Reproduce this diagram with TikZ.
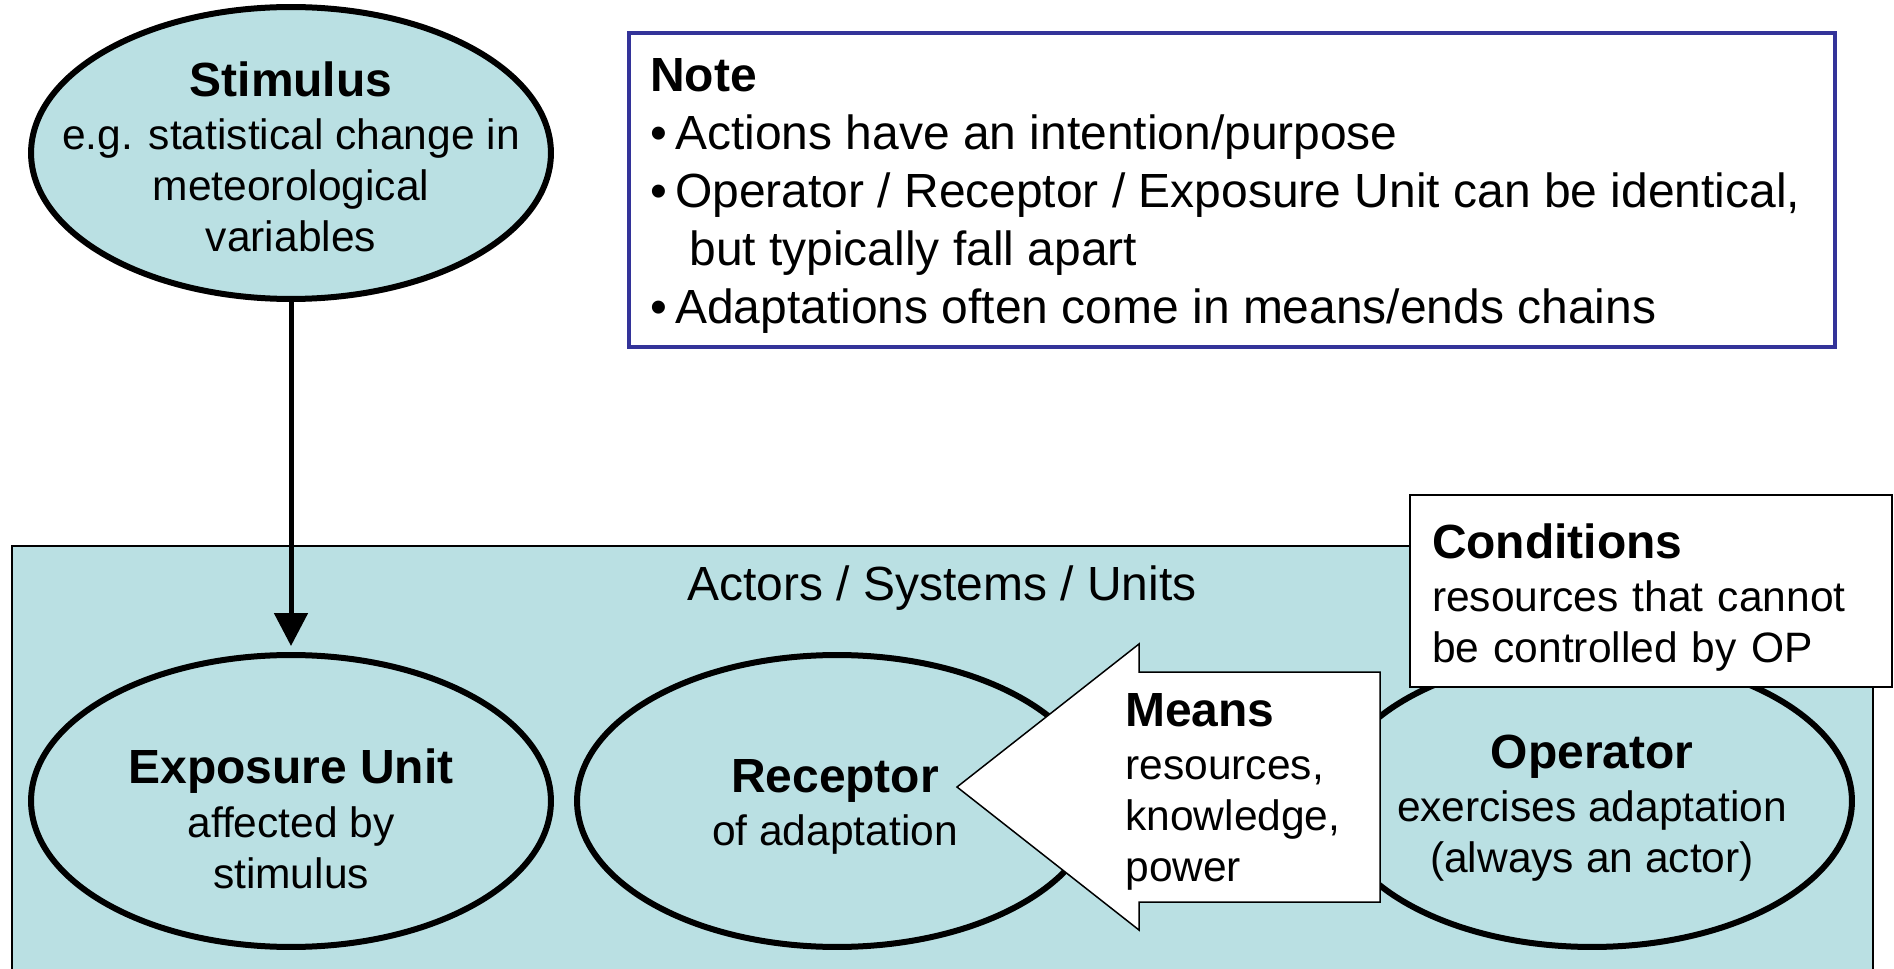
\documentclass[tikz,border=0pt]{standalone}
\usepackage{fontspec}
\setmainfont{Liberation Sans}
\usetikzlibrary{arrows.meta,shapes.geometric}
\definecolor{unitblue}{RGB}{186,224,227}
\definecolor{noteblue}{RGB}{51,51,153}
\newcommand{\hd}[1]{{\fontsize{27.3}{31}\selectfont\bfseries #1}}
\newcommand{\bodyfont}{\fontsize{24.2}{29}\selectfont}

\begin{document}
\begin{tikzpicture}[x=.02cm, y=-.02cm, every node/.style={font=\bodyfont},
  unit/.style={ellipse, draw, line width=.12cm, fill=unitblue, minimum width=10.4cm, minimum height=5.84cm, inner sep=0pt},
  txt/.style={align=center, inner sep=0pt},
  box/.style={draw, fill=white, line width=.04cm, align=left, inner xsep=.44cm}]
  \useasboundingbox (0,0) rectangle (1894,969);
  % actors area, runs off the bottom edge
  \draw[fill=unitblue, line width=.04cm] (12,546) rectangle (1873,1000);
  \node (area) at (942,588) {\fontsize{27.3}{31}\selectfont Actors / Systems / Units};
  % the four units
  \node[unit] (stim) at (291,153) {};
  \node[unit] (expo) at (291,801) {};
  \node[unit] (recp) at (837,801) {};
  \node[unit] (oper) at (1592,801) {};
  \node[txt] (stimtxt) at (291,157) {\hd{Stimulus}\\[.05cm]e.g. statistical change in\\meteorological\\variables};
  \node[txt] (expotxt) at (291,819) {\hd{Exposure Unit}\\[.05cm]affected by\\stimulus};
  \node[txt] (recptxt) at (835,807) {\hd{Receptor}\\[.05cm]of adaptation};
  \node[txt] (opertxt) at (1592,808) {\hd{Operator}\\[.05cm]exercises adaptation\\(always an actor)};
  \draw[line width=.1cm, -{Triangle[length=.66cm,width=.66cm]}, shorten >=.12cm] (stim) -- (expo);
  % means: block arrow pointing at the receptor
  \draw[fill=white, line width=.03cm] (957,787) -- (1139,644) -- (1139,672) -- (1380,672) -- (1380,902) -- (1139,902) -- (1139,930) -- cycle;
  \node[anchor=west, align=left, inner sep=0pt] (means) at (1125,792) {\hd{Means}\\[.05cm]resources,\\knowledge,\\power};
  \node[box, minimum width=9.64cm, minimum height=3.86cm, text width=8.76cm] (cond) at (1651,591) {\rule{0pt}{27pt}\hd{Conditions}\\[.05cm]resources that cannot\\be controlled by OP};
  % note box
  \draw[noteblue, fill=white, line width=.07cm] (629,33) rectangle (1835,347);
  \node[anchor=west, align=left, inner sep=0pt, font=\fontsize{27.3}{33}\selectfont] (note) at (650,196)
    {\textbf{Note}\\•\,Actions have an intention/purpose\\•\,Operator / Receptor / Exposure Unit can be identical,\\\hspace*{.78cm}but typically fall apart\\•\,Adaptations often come in means/ends chains};
\end{tikzpicture}
\end{document}
